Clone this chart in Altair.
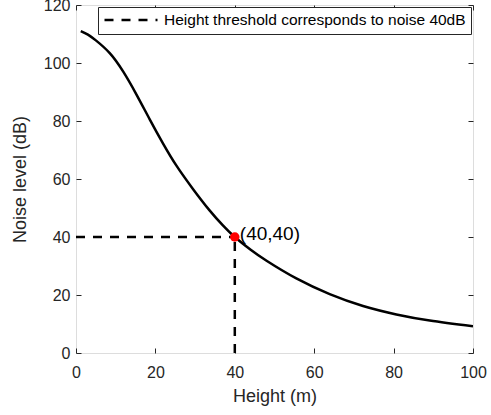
import altair as alt
import pandas as pd

# Noise level measured against height above the source
height_m = [1.2, 3, 5, 8.5, 11.9, 15.2, 18.6, 21.9, 25.3, 29.5, 33.7, 37, 40,
            44, 48, 55.5, 63.9, 72.3, 80.7, 89.1, 100]
noise_db = [111.0, 109.8, 107.8, 103.4, 97.0, 89.2, 80.5, 72.3, 64.6, 56.5,
            49.1, 44.0, 40.0, 35.6, 31.8, 25.7, 20.3, 16.2, 13.3, 11.2, 9.2]

# Threshold: height at which the noise drops to 40 dB
threshold_height = 40
threshold_noise = 40
threshold_label = "Height threshold corresponds to noise 40dB"

x_ticks = [0, 20, 40, 60, 80, 100]
y_ticks = [0, 20, 40, 60, 80, 100, 120]

FONT = "Liberation Sans"
AXIS_COLOR = "#262626"

curve = pd.DataFrame({"h": height_m, "n": noise_db})
guides = pd.DataFrame({
    "h": [0, threshold_height],
    "h2": [threshold_height, threshold_height],
    "n": [threshold_noise, 0],
    "n2": [threshold_noise, threshold_noise],
    "series": [threshold_label, threshold_label],
})
marker = pd.DataFrame({
    "h": [threshold_height],
    "n": [threshold_noise],
    "label": [f"({threshold_height},{threshold_noise})"],
})

x_scale = alt.Scale(domain=[0, 100], nice=False)
y_scale = alt.Scale(domain=[0, 120], nice=False)

common_axis = dict(
    domain=False, grid=False, tickSize=5, offset=-5, tickColor=AXIS_COLOR,
    tickWidth=1, labelFont=FONT, labelFontSize=16, labelColor=AXIS_COLOR,
    labelFlush=False, titleFont=FONT, titleFontSize=18, titleColor=AXIS_COLOR,
    titleFontWeight="normal",
)

x_bottom = alt.Axis(orient="bottom", values=x_ticks, labelPadding=11,
                    title="Height (m)", titlePadding=7, **common_axis)
y_left = alt.Axis(orient="left", values=y_ticks, labelPadding=6,
                  title="Noise level (dB)", titlePadding=14, **common_axis)
x_top = alt.Axis(orient="top", values=x_ticks, labels=False, title=None,
                 **common_axis)
y_right = alt.Axis(orient="right", values=y_ticks, labels=False, title=None,
                   **common_axis)

line = alt.Chart(curve).mark_line(
    color="black", strokeWidth=2.5, interpolate="natural", clip=True
).encode(
    x=alt.X("h:Q", scale=x_scale, axis=x_bottom),
    y=alt.Y("n:Q", scale=y_scale, axis=y_left),
)

dashes = alt.Chart(guides).mark_rule(color="black", strokeWidth=2.5).encode(
    x=alt.X("h:Q", scale=x_scale, axis=x_top),
    x2="h2:Q",
    y=alt.Y("n:Q", scale=y_scale, axis=y_right),
    y2="n2:Q",
    strokeDash=alt.StrokeDash(
        "series:N",
        scale=alt.Scale(domain=[threshold_label], range=[[9, 8]]),
        legend=alt.Legend(
            title=None, orient="top-right", offset=2,
            strokeColor=AXIS_COLOR, fillColor="white", padding=5,
            cornerRadius=0, symbolType="stroke", symbolSize=2809,
            symbolStrokeWidth=2.5, symbolStrokeColor="black",
            symbolDash=[8, 7], clipHeight=16, labelFont=FONT,
            labelFontSize=15.5, labelColor="black", labelLimit=400,
            labelOffset=5,
        ),
    ),
)

point = alt.Chart(marker).mark_circle(
    color="red", size=90, opacity=1
).encode(
    x=alt.X("h:Q", scale=x_scale, axis=None),
    y=alt.Y("n:Q", scale=y_scale, axis=None),
)

point_text = alt.Chart(marker).mark_text(
    align="left", baseline="middle", dx=5, dy=-3, font=FONT, fontSize=19,
    color="black",
).encode(
    x=alt.X("h:Q", scale=x_scale, axis=None),
    y=alt.Y("n:Q", scale=y_scale, axis=None),
    text="label:N",
)

chart = alt.layer(line, dashes, point, point_text).resolve_axis(
    x="independent", y="independent"
).properties(
    width=397,
    height=348,
    autosize=alt.AutoSizeParams(type="none"),
    padding={"left": 76, "top": 5, "right": 18, "bottom": 62},
).configure_view(
    stroke=AXIS_COLOR, strokeWidth=1
).configure(background="white")

chart.save("out.html", embed_options={"renderer": "svg", "actions": False})
